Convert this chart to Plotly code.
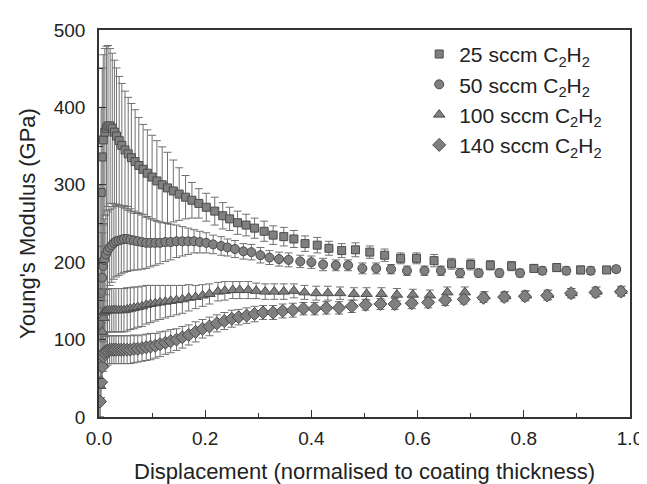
import plotly.graph_objects as go

# 25 sccm C2H2 (squares)
x25 = [0.002,0.004,0.006,0.008,0.011,0.014,0.017,0.021,0.025,0.029,
       0.033,0.038,0.043,0.049,0.055,0.061,0.068,0.075,0.083,0.091,
       0.100,0.109,0.119,0.129,0.140,0.151,0.163,0.175,0.188,0.202,
       0.218,0.233,0.246,0.261,0.277,0.293,0.311,0.328,0.348,0.367,
       0.388,0.411,0.433,0.457,0.483,0.510,0.538,0.568,0.598,0.631,
       0.664,0.700,0.737,0.777,0.819,0.862,0.907,0.956]
y25 = [200,290,336,358,368,373,376,376,373,368,
       363,357,351,345,340,335,330,325,320,315,
       310,305,300,296,292,288,284,280,276,271,
       266,260,256,251,248,244,240,235,233,230,
       224,222,218,215,216,213,209,205,205,202,
       198,197,196,195,192,193,190,190]
e25 = [100,110,115,110,108,106,104,100,97,93,
       88,83,80,76,73,70,67,62,58,56,
       54,52,49,46,40,34,28,23,19,18,
       18,17,15,15,14,13,13,12,12,11,
       10,10,9,9,9,8,8,7,7,8,
       7,7,6,6,5,5,5,3]

# 50 sccm C2H2 (circles)
x50 = [0.002,0.004,0.006,0.008,0.010,0.013,0.016,0.020,0.024,0.028,
       0.032,0.037,0.042,0.047,0.053,0.059,0.066,0.073,0.081,0.089,
       0.097,0.106,0.115,0.125,0.135,0.146,0.157,0.168,0.179,0.190,
       0.202,0.215,0.230,0.242,0.256,0.272,0.287,0.304,0.321,0.339,
       0.357,0.379,0.400,0.422,0.446,0.469,0.496,0.522,0.550,0.580,
       0.613,0.644,0.680,0.715,0.754,0.793,0.835,0.880,0.926,0.974]
y50 = [120,160,180,195,203,210,215,219,222,225,
       227,228,229,230,230,229,228,227,226,225,
       225,225,225,226,226,227,227,227,227,226,
       225,223,221,219,217,214,213,209,206,204,
       203,201,200,197,196,196,192,192,191,189,
       189,189,186,186,186,186,189,189,189,191]
e50 = [60,60,58,55,53,52,50,49,48,47,
       46,45,44,43,42,40,38,37,35,33,
       31,29,27,25,23,21,19,17,15,14,
       13,12,12,11,11,10,10,10,9,9,
       9,8,8,8,7,7,7,7,6,6,
       6,6,6,5,5,5,5,5,5,4]

# 100 sccm C2H2 (triangles)
x100 = [0.002,0.004,0.006,0.008,0.010,0.013,0.016,0.020,0.024,0.028,
        0.032,0.037,0.042,0.047,0.053,0.059,0.066,0.073,0.081,0.089,
        0.097,0.106,0.115,0.125,0.135,0.146,0.157,0.169,0.182,0.195,
        0.208,0.224,0.237,0.252,0.265,0.281,0.296,0.313,0.330,0.348,
        0.367,0.387,0.409,0.431,0.454,0.480,0.504,0.532,0.561,0.591,
        0.623,0.656,0.689,0.726,0.765,0.804,0.846,0.890,0.937,0.984]
y100 = [40,80,110,128,135,137,138,138,138,138,
        138,138,138,138,139,140,141,142,143,145,
        146,147,148,149,150,151,152,154,155,157,
        159,162,163,164,164,164,163,162,162,162,
        163,161,160,160,160,159,159,159,158,158,
        157,161,161,156,156,157,158,160,162,163]
e100 = [40,35,32,30,29,28,28,28,28,28,
        28,28,28,28,28,27,27,26,26,25,
        24,23,22,21,20,19,18,17,15,14,
        13,12,12,11,11,11,10,10,10,10,
        9,9,9,9,8,8,8,8,8,7,
        7,7,7,6,6,6,6,6,6,6]

# 140 sccm C2H2 (diamonds)
x140 = [0.002,0.004,0.006,0.008,0.010,0.013,0.016,0.020,0.024,0.028,
        0.032,0.037,0.042,0.047,0.053,0.059,0.066,0.073,0.081,0.089,
        0.097,0.106,0.115,0.125,0.135,0.146,0.157,0.169,0.182,0.195,
        0.208,0.222,0.236,0.250,0.263,0.278,0.293,0.309,0.328,0.346,
        0.365,0.385,0.406,0.428,0.452,0.476,0.502,0.530,0.557,0.589,
        0.620,0.652,0.687,0.724,0.763,0.802,0.844,0.889,0.935,0.983]
y140 = [20,45,65,78,83,85,86,87,87,87,
        87,87,87,87,87,87,88,88,89,90,
        91,92,94,96,98,100,103,106,110,114,
        117,121,124,127,129,131,133,135,135,137,
        138,140,140,141,141,143,145,146,146,147,
        148,151,152,154,155,156,157,160,161,162]
e140 = [20,20,20,19,19,19,19,18,18,18,
        18,18,18,18,18,18,18,17,17,17,
        17,16,16,15,15,14,14,13,13,12,
        12,11,11,11,10,10,10,9,9,9,
        9,8,8,8,8,8,7,7,7,7,
        7,7,6,6,6,6,6,6,6,6]

names = ["25 sccm C<sub>2</sub>H<sub>2</sub>",
         "50 sccm C<sub>2</sub>H<sub>2</sub>",
         "100 sccm C<sub>2</sub>H<sub>2</sub>",
         "140 sccm C<sub>2</sub>H<sub>2</sub>"]

FONT = "Liberation Sans, Arial, sans-serif"
fill = "#808080"
edge = "#4a4a4a"
ebar = "#707070"

series = [(x25, y25, e25, "square", 8),
          (x50, y50, e50, "circle", 9),
          (x100, y100, e100, "triangle-up", 10),
          (x140, y140, e140, "diamond", 10)]

fig = go.Figure()
for (xs, ys, es, sym, sz), nm in zip(series, names):
    fig.add_trace(go.Scatter(
        x=xs, y=ys, mode="markers", name=nm,
        marker=dict(symbol=sym, size=sz, color=fill,
                    line=dict(color=edge, width=1)),
        error_y=dict(type="data", array=es, visible=True,
                     color=ebar, thickness=1, width=4),
    ))

axis_common = dict(
    showline=True, linecolor="#333333", linewidth=1.5, mirror=True,
    ticks="inside", ticklen=7, tickwidth=1.2, tickcolor="#333333",
    showgrid=False, zeroline=False,
    tickfont=dict(family=FONT, size=19, color="#222222"),
)

fig.update_xaxes(
    range=[0, 1], dtick=0.2, tickformat=".1f", ticklabelstandoff=3,
    minor=dict(dtick=0.1, ticks="inside", ticklen=4, tickcolor="#333333"),
    title=dict(text="Displacement (normalised to coating thickness)",
               font=dict(family=FONT, size=22, color="#222222"), standoff=16),
    **axis_common)
fig.update_yaxes(
    range=[0, 500], dtick=100, ticklabelstandoff=8,
    minor=dict(dtick=50, ticks="inside", ticklen=4, tickcolor="#333333"),
    title=dict(text="Young's Modulus (GPa)",
               font=dict(family=FONT, size=22, color="#222222"), standoff=12),
    **axis_common)

fig.update_layout(
    width=647, height=484,
    margin=dict(l=91, r=16, t=22, b=65),
    paper_bgcolor="white", plot_bgcolor="white",
    showlegend=True,
    legend=dict(x=0.603, y=0.99, xanchor="left", yanchor="top",
                bgcolor="rgba(0,0,0,0)", borderwidth=0,
                font=dict(family=FONT, size=21, color="#222222"),
                itemsizing="trace", tracegroupgap=0),
)

fig.write_html("out.html")
